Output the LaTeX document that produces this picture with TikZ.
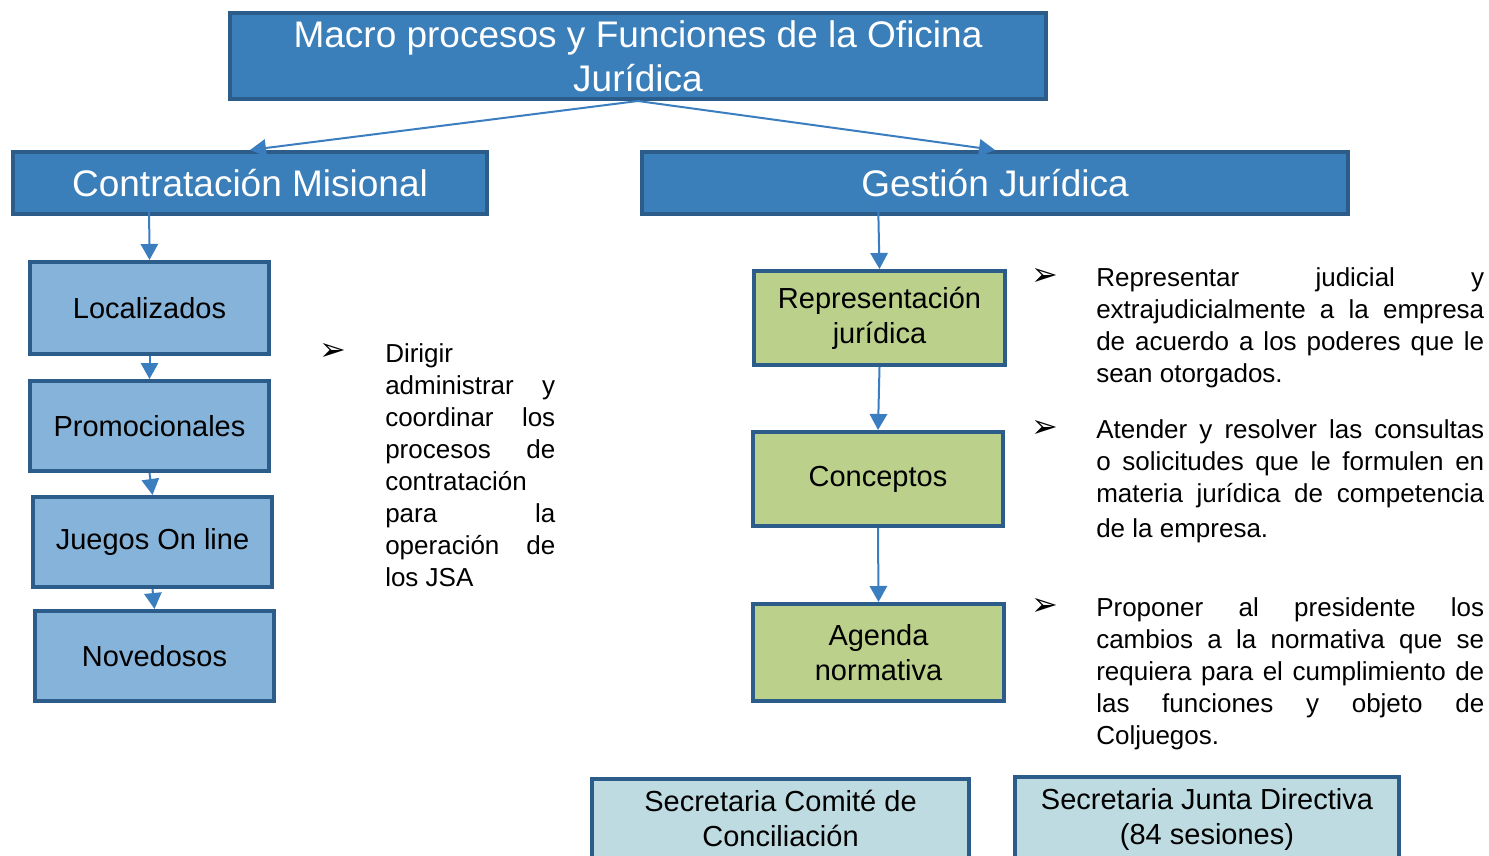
\documentclass[tikz,border=0pt]{standalone}
\usepackage{fontspec}
\setmainfont{Liberation Sans}
\newfontfamily\dejavu{DejaVu Sans}
\usetikzlibrary{arrows.meta}
\definecolor{darkc}{HTML}{3B7FBA}
\definecolor{bordc}{HTML}{2C5C8A}
\definecolor{lightc}{HTML}{86B3D9}
\definecolor{greenc}{HTML}{BBD08B}
\definecolor{tealc}{HTML}{BDDBE1}
\definecolor{arrc}{HTML}{3B7EC0}
\begin{document}
\begin{tikzpicture}[x=0.75pt,y=-0.75pt,
  box/.style={draw=bordc, line width=3pt, inner sep=0pt, align=center},
  hdr/.style={box, fill=darkc, text=white, font=\fontsize{27.75}{33}\selectfont},
  lb/.style={box, fill=lightc, font=\fontsize{21.75}{26.25}\selectfont},
  gr/.style={box, fill=greenc, font=\fontsize{21.75}{26.25}\selectfont},
  tl/.style={box, fill=tealc, font=\fontsize{21.75}{26.25}\selectfont},
  sz/.style 2 args={minimum width=#1*0.75pt, minimum height=#2*0.75pt},
  arr/.style={draw=arrc, line width=1.5pt, -{Triangle[length=12pt,width=13pt]}},
  bul/.style={inner sep=0pt, font=\dejavu\fontsize{24}{24}\selectfont},
  para/.style={inner sep=0pt, anchor=base west, font=\fontsize{19.5}{24}\selectfont}
]
\useasboundingbox (0,0) rectangle (1489,856);

% headers
\node[hdr, sz={816}{86}] (top) at (638,56) {Macro procesos y Funciones de la Oficina\\Jurídica};
\node[hdr, sz={474}{62}] (cm) at (250,183) {Contratación Misional};
\node[hdr, sz={706}{62}] (gj) at (995,183) {Gestión Jurídica};

% left column
\node[lb, sz={239}{92}] (loc) at (149.5,308) {Localizados};
\node[lb, sz={239}{90}] (promo) at (149.5,426) {Promocionales};
\node[lb, sz={239}{90}] (juegos) at (152.5,542) {Juegos On line};
\node[lb, sz={239}{90}] (nov) at (154.5,656) {Novedosos};

% green column
\node[gr, sz={251}{94}] (rep) at (879.5,318) {Representación\\jurídica};
\node[gr, sz={250}{94}] (conc) at (878,479) {Conceptos};
\node[gr, sz={251}{97}] (agenda) at (878.5,652.5) {Agenda\\normativa};

% bottom boxes (running off the lower edge)
\node[tl, sz={377}{90}] (comite) at (780.5,824) {Secretaria Comité de\\Conciliación\rule[-9pt]{0pt}{9pt}};
\node[tl, sz={384}{91}] (junta) at (1207,822.5) {Secretaria Junta Directiva\\(84 sesiones)\rule[-9.1pt]{0pt}{9.1pt}};

% connectors
\coordinate (cmx) at (149,198);
\coordinate (gjx) at (878,197);
\draw[arr] (top.south) -- (cm.north);
\draw[arr] (top.south) -- (gj.north);
\draw[arr] (cmx) -- (loc.north);
\draw[arr] (loc.south) -- (promo.north);
\draw[arr] (promo.south) -- (juegos.north);
\draw[arr] (juegos.south) -- (nov.north);
\draw[arr] (gjx) -- (rep.north);
\draw[arr] (rep.south) -- (conc.north);
\draw[arr] (conc.south) -- (agenda.north);

% bullets
\node[bul] (b0) at (333,352) {➢};
\node[bul] (b1) at (1045,277) {➢};
\node[bul] (b2) at (1045,429) {➢};
\node[bul] (b3) at (1045,607) {➢};

% paragraphs
\node[para] (p0) at (385,362) {\parbox[t]{127.5pt}{%
\makebox[127.5pt][l]{Dirigir}\\
\makebox[127.5pt][s]{administrar y}\\
\makebox[127.5pt][s]{coordinar los}\\
\makebox[127.5pt][s]{procesos de}\\
\makebox[127.5pt][l]{contratación}\\
\makebox[127.5pt][s]{para la}\\
\makebox[127.5pt][s]{operación de}\\
\makebox[127.5pt][l]{los JSA}}};

\node[para] (p1) at (1096,286) {\parbox[t]{291pt}{%
\makebox[291pt][s]{Representar judicial y}\\
\makebox[291pt][s]{extrajudicialmente a la empresa}\\
\makebox[291pt][s]{de acuerdo a los poderes que le}\\
\makebox[291pt][l]{sean otorgados.}}};

\node[para] (p2) at (1096,438) {\parbox[t]{291pt}{%
\makebox[291pt][s]{Atender y resolver las consultas}\\
\makebox[291pt][s]{o solicitudes que le formulen en}\\
\makebox[291pt][s]{materia jurídica de competencia}\\[2.25pt]
\makebox[291pt][l]{de la empresa.}}};

\node[para] (p3) at (1096,616) {\parbox[t]{291pt}{%
\makebox[291pt][s]{Proponer al presidente los}\\
\makebox[291pt][s]{cambios a la normativa que se}\\
\makebox[291pt][s]{requiera para el cumplimiento de}\\
\makebox[291pt][s]{las funciones y objeto de}\\
\makebox[291pt][l]{Coljuegos.}}};
\end{tikzpicture}
\end{document}
